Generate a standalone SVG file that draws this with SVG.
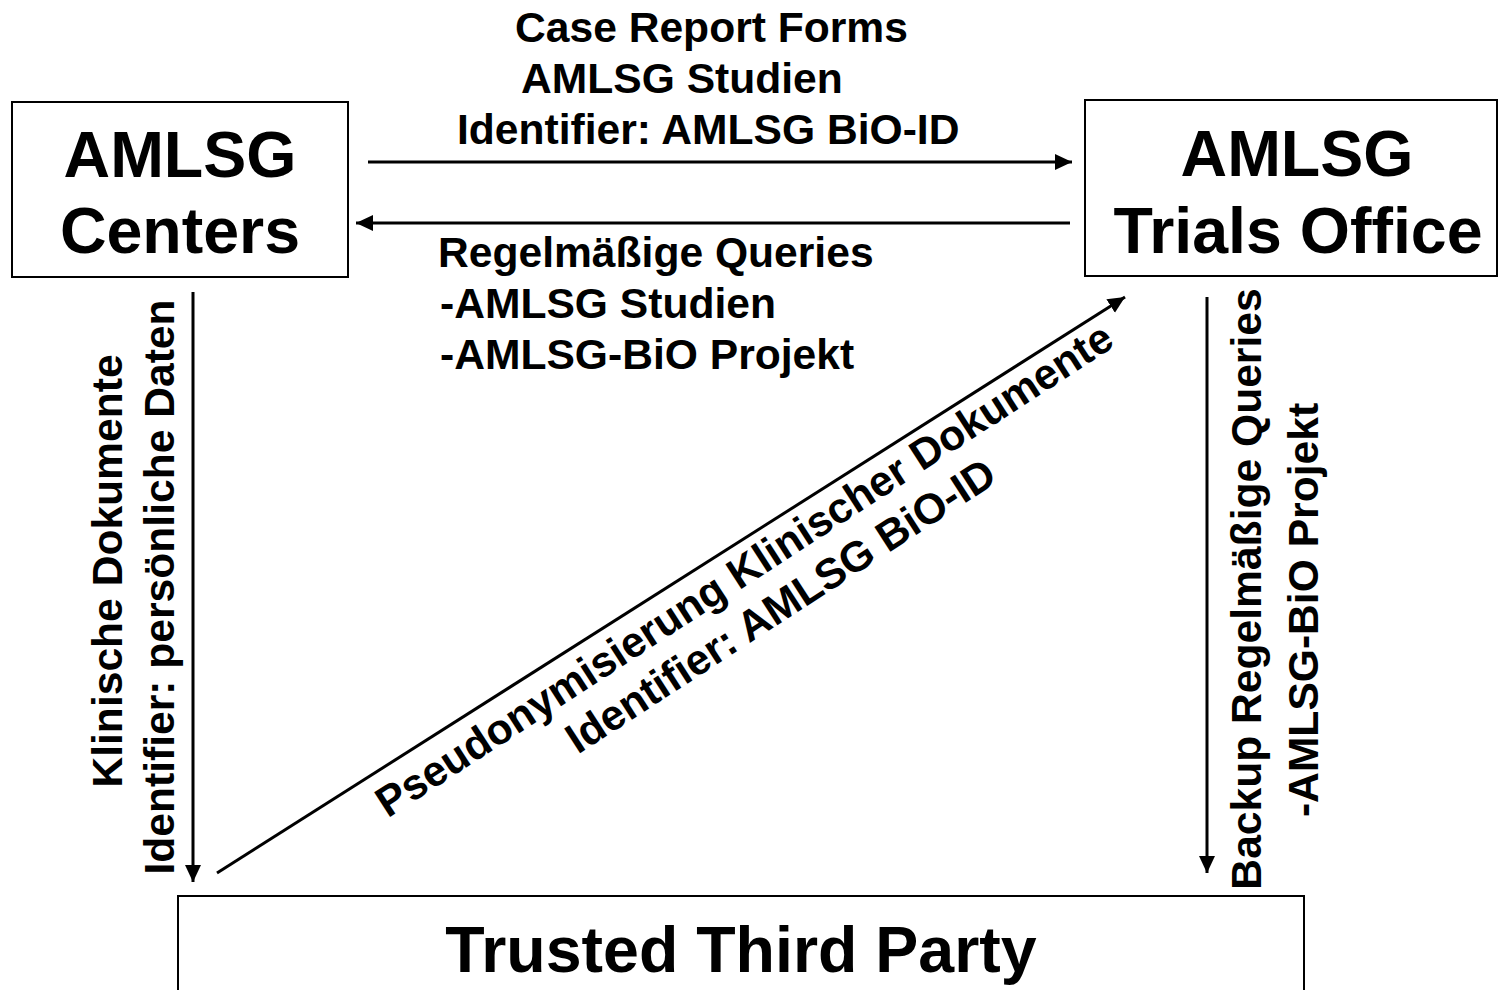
<svg xmlns="http://www.w3.org/2000/svg" width="1499" height="990" viewBox="0 0 1499 990">
  <style>
    .box { fill: #ffffff; stroke: #000000; stroke-width: 2; }
    .title { font-family: "Liberation Sans", Arial, sans-serif; font-weight: bold; font-size: 64.5px; fill: #000000; }
    .label { font-family: "Liberation Sans", Arial, sans-serif; font-weight: bold; font-size: 42.6px; fill: #000000; }
    .conn { stroke: #000000; stroke-width: 3; fill: none; marker-end: url(#arrow); }
  </style>
  <defs>
    <marker id="arrow" markerUnits="userSpaceOnUse" markerWidth="20" markerHeight="18" refX="17" refY="8" orient="auto">
      <path d="M0,0 L17,8 L0,16 Z" fill="#000000"/>
    </marker>
  </defs>
  <rect x="0" y="0" width="1499" height="990" fill="#ffffff"/>

  <g id="node-centers">
    <rect class="box" x="12" y="102" width="336" height="175"/>
    <text class="title" x="180" y="177" text-anchor="middle">AMLSG</text>
    <text class="title" x="180" y="253" text-anchor="middle">Centers</text>
  </g>

  <g id="node-trials-office">
    <rect class="box" x="1085" y="100" width="412" height="176"/>
    <text class="title" x="1297" y="176" text-anchor="middle">AMLSG</text>
    <text class="title" x="1298" y="253" text-anchor="middle">Trials Office</text>
  </g>

  <g id="node-ttp">
    <rect class="box" x="178" y="896" width="1126" height="120"/>
    <text class="title" x="741" y="972" text-anchor="middle">Trusted Third Party</text>
  </g>

  <g id="connectors">
    <line class="conn" x1="368" y1="162" x2="1072" y2="162"/>
    <line class="conn" x1="1070" y1="223" x2="356" y2="223"/>
    <line class="conn" x1="193" y1="292" x2="193" y2="882"/>
    <line class="conn" x1="217" y1="873" x2="1125" y2="297"/>
    <line class="conn" x1="1207" y1="297" x2="1207" y2="873"/>
  </g>

  <g id="labels">
    <text class="label" x="515" y="42">Case Report Forms</text>
    <text class="label" x="521" y="93">AMLSG Studien</text>
    <text class="label" x="457" y="144">Identifier: AMLSG BiO-ID</text>

    <text class="label" x="438" y="267">Regelmäßige Queries</text>
    <text class="label" x="440" y="318">-AMLSG Studien</text>
    <text class="label" x="440" y="369">-AMLSG-BiO Projekt</text>

    <text class="label" transform="translate(122,571) rotate(-90)" text-anchor="middle">Klinische Dokumente</text>
    <text class="label" transform="translate(174,587) rotate(-90)" text-anchor="middle">Identifier: persönliche Daten</text>

    <text class="label" transform="translate(1261,589) rotate(-90)" text-anchor="middle">Backup Regelmäßige Queries</text>
    <text class="label" transform="translate(1318,610) rotate(-90)" text-anchor="middle">-AMLSG-BiO Projekt</text>

    <g transform="translate(752,582) rotate(-33)">
      <text class="label" x="0" y="0" text-anchor="middle">Pseudonymisierung Klinischer Dokumente</text>
      <text class="label" x="11" y="50" text-anchor="middle">Identifier: AMLSG BiO-ID</text>
    </g>
  </g>
</svg>
